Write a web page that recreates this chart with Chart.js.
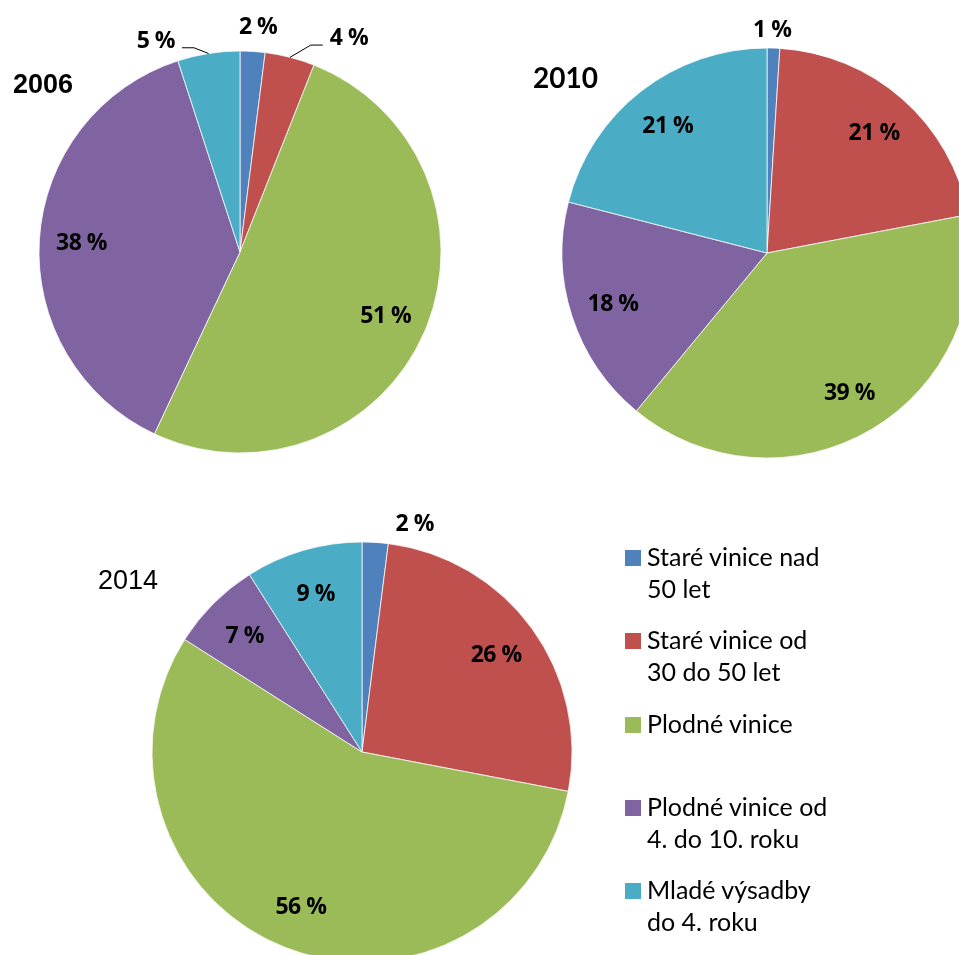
<!DOCTYPE html>
<html>
<head>
<meta charset="utf-8">
<script src="https://cdn.jsdelivr.net/npm/chart.js@4.4.0/dist/chart.umd.min.js"></script>
<style>
  html, body { margin: 0; padding: 0; background: #fff; overflow: hidden; }
  body { width: 959px; height: 955px; position: relative; }
  canvas { position: absolute; }
  #legend { position: absolute; left: 625px; top: 540px; font-family: Lato, "Open Sans", sans-serif; font-size: 25px; line-height: 32px; color: #000; }
  .item { position: absolute; left: 0; width: 320px; }
  .item .box { position: absolute; left: 0; top: 10px; width: 16px; height: 16px; }
  .item .txt { position: absolute; left: 22px; top: 0; white-space: nowrap; }
</style>
</head>
<body>
<canvas id="pie2006" width="480" height="504" style="left:0px;top:0px"></canvas>
<canvas id="pie2010" width="520" height="506" style="left:507px;top:0px"></canvas>
<canvas id="pie2014" width="600" height="520" style="left:62px;top:492px"></canvas>
<div id="legend"></div>

<script>
// categories (legend order = slice order)
const categories = [
  ['Staré vinice nad', '50 let'],
  ['Staré vinice od', '30 do 50 let'],
  ['Plodné vinice'],
  ['Plodné vinice od', '4. do 10. roku'],
  ['Mladé výsadby', 'do 4. roku']
];
const colors = ['#4F81BD', '#C0504D', '#9BBB59', '#8064A2', '#4BACC6'];

// share of area in %
const values2006 = [2, 4, 51, 38, 5];
const values2010 = [1, 21, 39, 18, 21];
const values2014 = [2, 26, 56, 7, 9];

// draws the % labels and the year title
const sliceLabels = {
  id: 'sliceLabels',
  afterDatasetsDraw(chart, args, opts) {
    const ctx = chart.ctx;
    const meta = chart.getDatasetMeta(0);
    const data = chart.data.datasets[0].data;
    ctx.save();
    ctx.font = 'bold 23px "Open Sans"';
    if ('letterSpacing' in ctx) ctx.letterSpacing = '-0.5px';
    ctx.fillStyle = '#000';
    ctx.strokeStyle = '#000';
    ctx.lineWidth = 1;
    ctx.textAlign = 'center';
    ctx.textBaseline = 'alphabetic';
    meta.data.forEach((arc, i) => {
      const p = arc.getProps(['x', 'y', 'startAngle', 'endAngle', 'outerRadius'], true);
      const mid = (p.startAngle + p.endAngle) / 2;
      const text = data[i] + ' %';
      const out = opts.outside[i];
      let lx, ly;
      if (!out) {
        const r = p.outerRadius * 0.79;
        lx = p.x + Math.cos(mid) * r;
        ly = p.y + Math.sin(mid) * r;
      } else {
        const r = p.outerRadius + 24;
        lx = p.x + Math.cos(mid) * r + out.dx;
        ly = p.y + Math.sin(mid) * r + out.dy;
        if (out.leader) {
          const side = out.dx > 0 ? 1 : -1;
          const half = ctx.measureText(text).width / 2;
          const endX = lx - side * (half + 7);
          const elbowX = endX - side * 12;
          const lineY = ly + 8;
          ctx.beginPath();
          ctx.moveTo(p.x + Math.cos(mid) * p.outerRadius, p.y + Math.sin(mid) * p.outerRadius);
          ctx.lineTo(elbowX, lineY);
          ctx.lineTo(endX, lineY);
          ctx.stroke();
        }
      }
      ctx.fillText(text, lx, ly + 8);
    });
    // year title
    const t = opts.title;
    if ('letterSpacing' in ctx) ctx.letterSpacing = '0px';
    ctx.textAlign = 'left';
    ctx.font = t.font;
    ctx.fillText(t.text, t.x, t.y);
    ctx.restore();
  }
};

function makePie(id, values, radius, title, outside) {
  return new Chart(document.getElementById(id), {
    type: 'pie',
    data: {
      labels: categories.map(c => c.join(' ')),
      datasets: [{
        data: values,
        backgroundColor: colors,
        borderColor: '#ffffff',
        borderWidth: 0.75,
        hoverOffset: 0
      }]
    },
    options: {
      responsive: false,
      animation: false,
      radius: radius,
      layout: { padding: 0 },
      events: [],
      plugins: {
        legend: { display: false },
        tooltip: { enabled: false },
        sliceLabels: { title: title, outside: outside }
      }
    },
    plugins: [sliceLabels]
  });
}

function buildLegend() {
  const legend = document.getElementById('legend');
  categories.forEach((lines, i) => {
    const item = document.createElement('div');
    item.className = 'item';
    item.style.top = (i * 83.3) + 'px';
    const box = document.createElement('div');
    box.className = 'box';
    box.style.background = colors[i];
    const txt = document.createElement('div');
    txt.className = 'txt';
    txt.innerHTML = lines.join('<br>');
    item.appendChild(box);
    item.appendChild(txt);
    legend.appendChild(item);
  });
}

function init() {
  buildLegend();
  makePie('pie2006', values2006, 201,
    { text: '2006', x: 13, y: 92.5, font: 'bold 27px "Liberation Sans", Arial' },
    { 0: { dx: 4, dy: -1 }, 1: { dx: 53, dy: 3, leader: true }, 4: { dx: -49, dy: 10, leader: true } });
  makePie('pie2010', values2010, 205,
    { text: '2010', x: 26, y: 88, font: 'bold 28px Lato' },
    { 0: { dx: -2, dy: 5 } });
  makePie('pie2014', values2014, 210,
    { text: '2014', x: 36, y: 97, font: '27px "Liberation Sans", Arial' },
    { 0: { dx: 38, dy: 5 } });
}

Promise.all([
  document.fonts.load('bold 23px "Open Sans"'),
  document.fonts.load('bold 28px Lato'),
  document.fonts.load('25px Lato'),
  document.fonts.load('bold 27px "Liberation Sans"'),
  document.fonts.load('27px "Liberation Sans"')
]).then(init, init);
</script>
</body>
</html>
